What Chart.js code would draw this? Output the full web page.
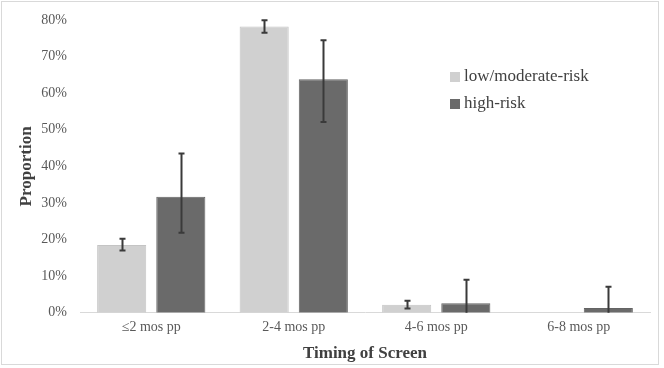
<!DOCTYPE html>
<html><head><meta charset="utf-8">
<script src="https://cdn.jsdelivr.net/npm/chart.js@4/dist/chart.umd.min.js"></script>
<style>
html,body{margin:0;padding:0;background:#fff;}
#wrap{position:relative;width:664px;height:368px;}
#frame{position:absolute;left:1px;top:1px;width:658px;height:364px;border:1px solid #d9d9d9;box-sizing:border-box;pointer-events:none;}
</style></head>
<body><div id="wrap"><canvas id="c" width="664" height="368"></canvas><div id="frame"></div></div>
<script>
const categories = ["\u22642 mos pp", "2-4 mos pp", "4-6 mos pp", "6-8 mos pp"];
const seriesNames = ["low/moderate-risk", "high-risk"];
const lowValues = [18.5, 78.2, 2.2, 0];
const lowErrLow = [17.0, 76.5, 1.2, 0];
const lowErrHigh = [20.2, 79.9, 3.3, 0];
const highValues = [31.7, 63.8, 2.6, 1.3];
const highErrLow = [21.9, 52.1, 0, 0];
const highErrHigh = [43.5, 74.5, 9.0, 7.1];
const yTicks = [0, 10, 20, 30, 40, 50, 60, 70, 80];

const FONT = "'Liberation Serif', 'Times New Roman', serif";
const errors = [[lowErrLow, lowErrHigh], [highErrLow, highErrHigh]];

const errorBarPlugin = {
  id: 'errorBars',
  afterDatasetsDraw(chart) {
    const ctx = chart.ctx;
    const y = chart.scales.y;
    ctx.save();
    ctx.strokeStyle = '#3a3a3a';
    ctx.lineWidth = 2;
    chart.data.datasets.forEach((ds, di) => {
      const meta = chart.getDatasetMeta(di);
      meta.data.forEach((bar, i) => {
        const lo = errors[di][0][i], hi = errors[di][1][i];
        if (lo === hi) return;
        const x = Math.round(bar.x) + 0.5;
        const yl = y.getPixelForValue(lo), yh = y.getPixelForValue(hi);
        ctx.beginPath();
        ctx.moveTo(x, yl); ctx.lineTo(x, yh);
        ctx.moveTo(x - 3, yh); ctx.lineTo(x + 3, yh);
        if (lo > 0) { ctx.moveTo(x - 3, yl); ctx.lineTo(x + 3, yl); }
        ctx.stroke();
      });
    });
    ctx.restore();
  }
};

const legendPlugin = {
  id: 'innerLegend',
  afterDraw(chart) {
    const ctx = chart.ctx;
    ctx.save();
    ctx.font = "17px " + FONT;
    ctx.textBaseline = 'middle';
    chart.data.datasets.forEach((ds, i) => {
      const yy = 77 + i * 27;
      ctx.fillStyle = ds.backgroundColor;
      ctx.fillRect(450, yy - 5, 10, 10);
      ctx.fillStyle = '#404040';
      ctx.fillText(ds.label, 464, yy);
    });
    ctx.restore();
  }
};

new Chart(document.getElementById('c'), {
  type: 'bar',
  data: {
    labels: categories,
    datasets: [
      { label: seriesNames[0], data: lowValues, backgroundColor: '#d0d0d0', borderColor: '#c4c4c4', borderWidth: 1 },
      { label: seriesNames[1], data: highValues, backgroundColor: '#6a6a6a', borderColor: '#646464', borderWidth: 1 }
    ]
  },
  options: {
    responsive: false,
    animation: false,
    devicePixelRatio: 1,
    layout: { padding: { left: 12, right: 14, top: 20, bottom: 0 } },
    datasets: { bar: { categoryPercentage: 0.83, barPercentage: 0.83 } },
    plugins: { legend: { display: false }, tooltip: { enabled: false } },
    scales: {
      x: {
        grid: { display: false, drawTicks: false },
        border: { display: true, color: '#d9d9d9', width: 1 },
        ticks: { color: '#595959', font: { family: FONT, size: 14 }, padding: 6 },
        title: { display: true, text: 'Timing of Screen', color: '#404040', font: { family: FONT, size: 17, weight: 'bold' }, padding: { top: 2, bottom: 4 } }
      },
      y: {
        min: 0, max: 80,
        afterBuildTicks(s) { s.ticks = yTicks.map(v => ({ value: v })); },
        grid: { display: false },
        border: { display: false },
        ticks: { color: '#595959', font: { family: FONT, size: 14 }, padding: 5, callback: v => v + '%' },
        title: { display: true, text: 'Proportion', color: '#404040', font: { family: FONT, size: 17, weight: 'bold' }, padding: { bottom: 6 } },
        afterFit(s) { s.width = 68; }
      }
    }
  },
  plugins: [errorBarPlugin, legendPlugin]
});
</script>
</body></html>
